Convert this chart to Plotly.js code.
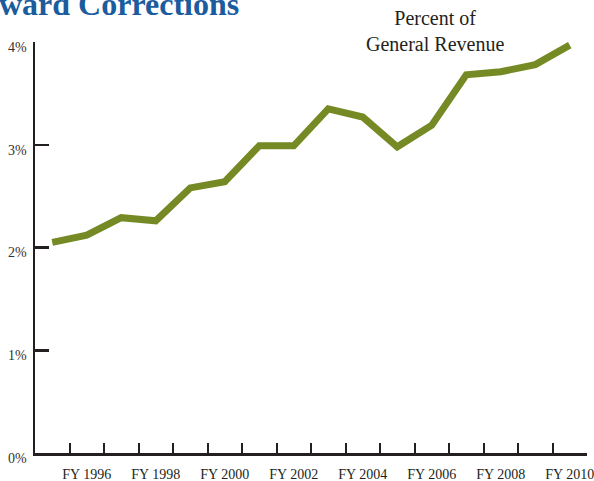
<!DOCTYPE html>
<html>
<head>
<meta charset="utf-8">
<script src="https://cdn.plot.ly/plotly-3.0.1.min.js"></script>
<style>html,body{margin:0;padding:0;background:#fff;}#chart{width:594px;height:481px;}</style>
</head>
<body>
<div id="chart"></div>
<script>
const years = [1995,1996,1997,1998,1999,2000,2001,2002,2003,2004,2005,2006,2007,2008,2009,2010];
const percentOfRevenue = [2.05,2.12,2.29,2.26,2.58,2.64,2.99,2.99,3.35,3.27,2.98,3.19,3.68,3.71,3.78,3.97];
const boundaryTicks = [1995.5,1996.5,1997.5,1998.5,1999.5,2000.5,2001.5,2002.5,2003.5,2004.5,2005.5,2006.5,2007.5,2008.5,2009.5,2010.5];
const labelYears = [1996,1998,2000,2002,2004,2006,2008,2010];
const labelText = ["FY 1996","FY 1998","FY 2000","FY 2002","FY 2004","FY 2006","FY 2008","FY 2010"];
const yTicks = [0,1,2,3,4];
const yTickText = ["0%","1%","2%","3%","4%"];
const titleText = "ward Corrections";
const seriesLabel = "Percent of<br>General Revenue";

const axisColor = "#231f20";
const serif = "Liberation Serif, Times New Roman, serif";

const trace = {
  x: years, y: percentOfRevenue, type: "scatter", mode: "lines",
  line: {color: "#758a24", width: 7},
  hoverinfo: "skip", showlegend: false
};
const labelTrace = {
  x: years, y: percentOfRevenue, xaxis: "x2", type: "scatter", mode: "none",
  hoverinfo: "skip", showlegend: false
};

const layout = {
  width: 594, height: 481,
  margin: {l: 35, r: 7, t: 42, b: 28, pad: 0},
  paper_bgcolor: "#fff", plot_bgcolor: "#fff",
  font: {family: serif, color: axisColor, size: 14},
  xaxis: {
    range: [1994.5, 2010.5], tickvals: boundaryTicks, showticklabels: false,
    ticks: "inside", ticklen: 10, tickwidth: 2, tickcolor: axisColor,
    showline: true, linecolor: axisColor, linewidth: 2.5,
    showgrid: false, zeroline: false, fixedrange: true
  },
  xaxis2: {
    overlaying: "x", side: "bottom", matches: "x", range: [1994.5, 2010.5],
    tickvals: labelYears, ticktext: labelText, ticks: "",
    tickfont: {family: serif, size: 14, color: axisColor},
    ticklabelstandoff: 11, ticklabeloverflow: "allow",
    showline: false, showgrid: false, zeroline: false, fixedrange: true
  },
  yaxis: {
    range: [0, 4], tickvals: yTicks, ticktext: yTickText,
    ticks: "inside", ticklen: 14, tickwidth: 2.5, tickcolor: axisColor,
    tickfont: {family: serif, size: 14, color: "#333"},
    ticklabelstandoff: 3, ticklabelshift: 5, ticklabeloverflow: "allow",
    showline: true, linecolor: axisColor, linewidth: 2.5,
    showgrid: false, zeroline: false, fixedrange: true
  },
  annotations: [
    {xref: "paper", yref: "paper", x: 0.7246, y: 1.027, xanchor: "center", yanchor: "middle",
     text: seriesLabel, showarrow: false, align: "center",
     font: {family: serif, size: 20, color: axisColor}},
    {xref: "paper", yref: "paper", x: -0.069, y: 1.092, xanchor: "left", yanchor: "middle",
     text: "<b>" + titleText + "</b>", showarrow: false,
     font: {family: serif, size: 32, color: "#1b5c9e"}}
  ]
};

Plotly.newPlot("chart", [trace, labelTrace], layout, {displayModeBar: false, staticPlot: true});
</script>
</body>
</html>
